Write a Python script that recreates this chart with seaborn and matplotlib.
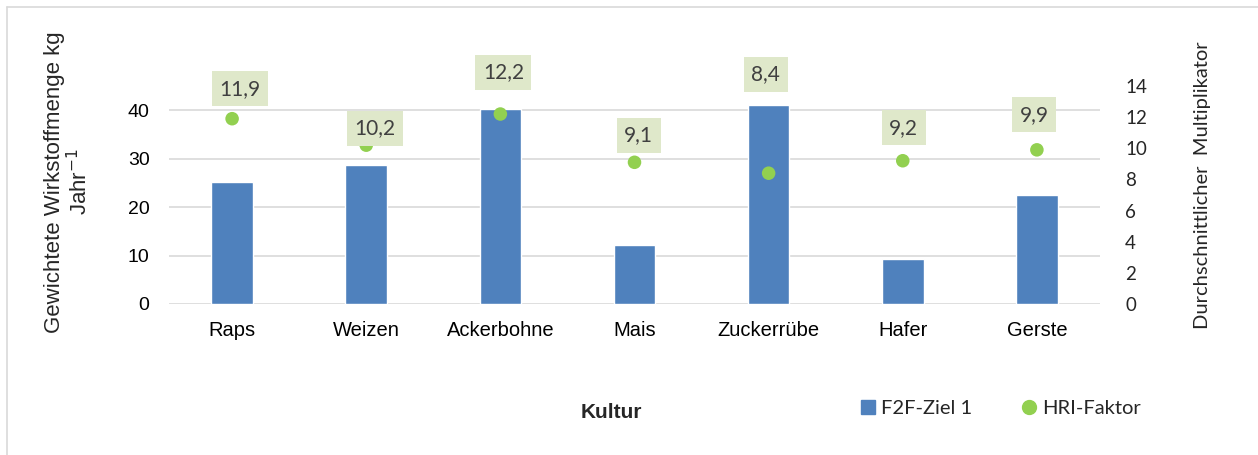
import matplotlib
matplotlib.use("Agg")
import matplotlib.pyplot as plt
import seaborn as sns
import pandas as pd
from matplotlib.lines import Line2D

# --- Daten ---
kulturen = ["Raps", "Weizen", "Ackerbohne", "Mais", "Zuckerrübe", "Hafer", "Gerste"]
f2f_ziel = [25.2, 28.6, 40.2, 12.1, 41.0, 9.3, 22.6]
hri_faktor = [11.9, 10.2, 12.2, 9.1, 8.4, 9.2, 9.9]
hri_labels = ["11,9", "10,2", "12,2", "9,1", "8,4", "9,2", "9,9"]

# Lage der Datenbeschriftungen relativ zum Punkt (Pixel)
label_dx = [8, 9, 3, 4, -3, 1, -3]
label_dy = [30, 17, 42, 27, 99, 33, 35]

df = pd.DataFrame({"Kultur": kulturen, "F2F": f2f_ziel, "HRI": hri_faktor})

sns.set_theme(style="white")
arial = ["Liberation Sans", "DejaVu Sans"]
calibri = ["Lato", "DejaVu Sans"]
plt.rcParams["font.family"] = arial

blau = "#4F81BD"
gruen = "#92D050"
grau = "#D9D9D9"

fig = plt.figure(figsize=(12.58, 4.55), dpi=100)
ax = fig.add_axes([169 / 1258, 1 - 304 / 455, 931 / 1258, 218 / 455])

sns.barplot(data=df, x="Kultur", y="F2F", color=blau, width=0.31,
            saturation=1, ax=ax, zorder=2)
ax.set_ylim(0, 45)
ax.set_yticks([0, 10, 20, 30, 40])
ax.yaxis.grid(True, color=grau, linewidth=1.2)
ax.set_axisbelow(True)
for s in ax.spines.values():
    s.set_visible(False)
ax.tick_params(axis="y", length=0, pad=14, labelsize=14, labelcolor="#000000")
ax.tick_params(axis="x", length=0, pad=12, labelsize=14.5, labelcolor="#000000")
ax.set_xlabel("")
ax.set_ylabel("Gewichtete Wirkstoffmenge kg\nJahr$^{-1}$", fontsize=16,
              linespacing=1.1)
ax.yaxis.set_label_coords(-0.083, 0.56)

ax2 = ax.twinx()
sns.scatterplot(data=df, x="Kultur", y="HRI", color=gruen, s=95,
                edgecolor="none", ax=ax2, zorder=3)
ax2.set_ylim(0, 14)
ax2.set_yticks(range(0, 15, 2))
for s in ax2.spines.values():
    s.set_visible(False)
ax2.tick_params(axis="y", length=0, pad=18, labelsize=13.5)
for t in ax2.get_yticklabels():
    t.set_family(calibri)
ax2.set_ylabel("Durchschnittlicher  Multiplikator", family=calibri,
               fontsize=14.5)
ax2.yaxis.set_label_coords(1.101, 0.546)
ax2.set_xlim(ax.get_xlim())

# Datenbeschriftungen mit grünem Hintergrund
for i, (val, txt) in enumerate(zip(hri_faktor, hri_labels)):
    ax2.annotate(txt, xy=(i, val), xytext=(label_dx[i], label_dy[i]),
                 textcoords="offset pixels", ha="center", va="center",
                 fontsize=15, family=calibri, color="#404040",
                 bbox=dict(boxstyle="square,pad=0.36", facecolor="#DFE8CA",
                           edgecolor="none"), zorder=4)

# Achsentitel unten
fig.text(611 / 1258, 1 - 412 / 455, "Kultur", ha="center", va="center",
         fontsize=15, fontweight="bold")

# Legende
handles = [
    Line2D([], [], marker="s", linestyle="none", color=blau, markersize=9.5),
    Line2D([], [], marker="o", linestyle="none", color=gruen, markersize=10),
]
fig.legend(handles, ["F2F-Ziel 1", "HRI-Faktor"], loc="center left",
           bbox_to_anchor=(844 / 1258, 1 - 408 / 455), ncol=2, frameon=False,
           prop={"family": calibri, "size": 14.5}, handletextpad=0.15,
           columnspacing=2.3, handlelength=1.0, borderpad=0.2)

# Rahmen des Diagramms (oben und links sichtbar)
fig.add_artist(Line2D([7 / 1258, 7 / 1258], [0, 1 - 7 / 455],
                      transform=fig.transFigure, color=grau, linewidth=1.2))
fig.add_artist(Line2D([7 / 1258, 1], [1 - 7 / 455, 1 - 7 / 455],
                      transform=fig.transFigure, color=grau, linewidth=1.2))

fig.savefig("out.png", dpi=100, facecolor="white")
